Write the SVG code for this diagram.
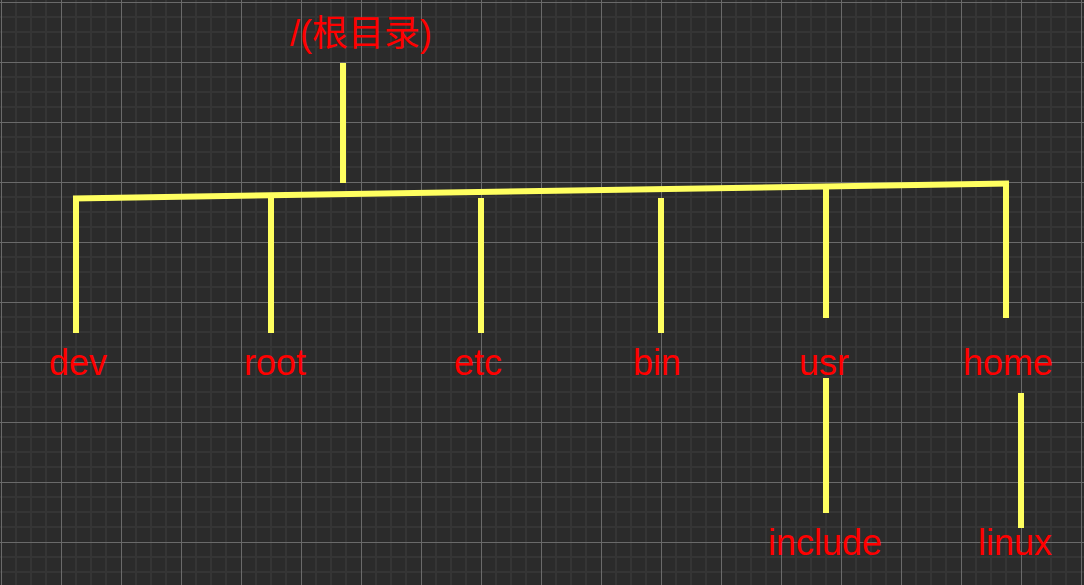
<svg xmlns="http://www.w3.org/2000/svg" width="1084" height="585" viewBox="0 0 1084 585">
  <defs>
    <pattern id="grid" x="1" y="2" width="60" height="60" patternUnits="userSpaceOnUse">
      <rect x="0" y="0" width="60" height="60" fill="#2b2b2b"/>
      <path d="M15 0V60M30 0V60M45 0V60M0 15H60M0 30H60M0 45H60" stroke="#353535" stroke-width="2" fill="none"/>
      <path d="M0.5 0V60M0 0.5H60" stroke="#6a6a6a" stroke-width="1" fill="none"/>
    </pattern>
    <style>
      .c { stroke: #ffff60; stroke-width: 6; fill: none; stroke-linecap: butt; }
      .t { fill: #ff0000; font-family: "Liberation Sans", Arial, "Noto Sans CJK SC", sans-serif; font-size: 36px; }
    </style>
  </defs>
  <rect x="0" y="0" width="1084" height="585" fill="url(#grid)"/>

  <g id="connectors">
    <path class="c" d="M343 63V183"/>
    <path class="c" d="M73 198.5L1009 183.5"/>
    <path class="c" d="M76 198V333"/>
    <path class="c" d="M271 198V333"/>
    <path class="c" d="M481 198V333"/>
    <path class="c" d="M661 198V333"/>
    <path class="c" d="M826 186V318"/>
    <path class="c" d="M1006 183V318"/>
    <path class="c" d="M826 378V513"/>
    <path class="c" d="M1021 393V528"/>
  </g>

  <g id="node-root-dir"><text class="t" x="290" y="46">/(根目录)</text></g>
  <g id="node-dev"><text class="t" x="49" y="375">dev</text></g>
  <g id="node-root"><text class="t" x="244" y="375">root</text></g>
  <g id="node-etc"><text class="t" x="454" y="375">etc</text></g>
  <g id="node-bin"><text class="t" x="633" y="375">bin</text></g>
  <g id="node-usr"><text class="t" x="799" y="375">usr</text></g>
  <g id="node-home"><text class="t" x="963" y="375">home</text></g>
  <g id="node-include"><text class="t" x="768" y="555">include</text></g>
  <g id="node-linux"><text class="t" x="978" y="555">linux</text></g>
</svg>
